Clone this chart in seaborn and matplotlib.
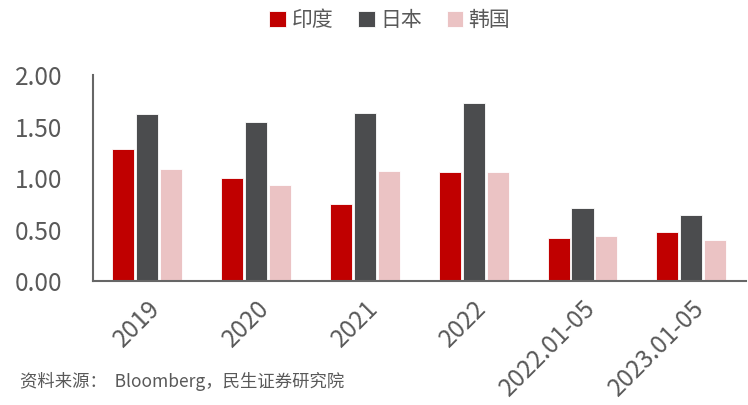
# plot.py
# grouped bar chart: india / japan / korea

import numpy as np
import pandas as pd
from matplotlib import pyplot as plt
import seaborn as sns

sns.set_style("white")
plt.rcParams['font.family'] = ['Noto Sans CJK SC', 'DejaVu Sans']

# data
periods = ['2019', '2020', '2021', '2022', '2022.01-05', '2023.01-05']
countries = ['印度', '日本', '韩国']
india = [1.28, 1.00, 0.75, 1.06, 0.42, 0.48]
japan = [1.62, 1.54, 1.63, 1.73, 0.71, 0.64]
korea = [1.09, 0.93, 1.07, 1.06, 0.44, 0.40]
colors = ['#C00000', '#4B4C4E', '#EBC3C4']

data = pd.DataFrame({
    'period': periods * 3,
    'country': [countries[0]] * 6 + [countries[1]] * 6 + [countries[2]] * 6,
    'value': india + japan + korea,
})

fig, ax = plt.subplots(figsize=(7.48, 4.05), dpi=100)
fig.subplots_adjust(left=0.124, right=0.997, top=0.815, bottom=0.305)

sns.barplot(data=data, x='period', y='value', hue='country', order=periods,
            hue_order=countries, palette=colors, saturation=1, width=0.66, gap=0.08,
            edgecolor='white', linewidth=0.6, ax=ax)

text_color = '#595959'
ax.set_ylim(0, 2.0)
ax.set_yticks(np.arange(0, 2.01, 0.5))
ax.set_yticklabels([f'{v:.2f}' for v in np.arange(0, 2.01, 0.5)])
ax.set_xlim(-0.5, len(periods) - 0.5)
ax.set(xlabel='', ylabel='')

for side in ['top', 'right']:
    ax.spines[side].set_visible(False)
for side in ['left', 'bottom']:
    ax.spines[side].set_color('#666666')
    ax.spines[side].set_linewidth(1.5)

ax.tick_params(axis='y', labelsize=17.5, colors=text_color, length=0, pad=22)
ax.tick_params(axis='x', labelsize=17.5, colors=text_color, length=0, pad=10)
for lbl in ax.get_xticklabels():
    lbl.set_rotation(45)
    lbl.set_ha('right')
    lbl.set_rotation_mode('anchor')

ax.legend(loc='center', bbox_to_anchor=(0.455, 1.265), ncol=3, frameon=False,
          fontsize=15, handlelength=0.8, handleheight=0.8, handletextpad=0.25,
          columnspacing=1.2, labelcolor=text_color)

fig.text(0.027, 0.045, '资料来源：  Bloomberg，民生证券研究院', fontsize=12.5, color=text_color)

plt.savefig('out.png', dpi=100)
